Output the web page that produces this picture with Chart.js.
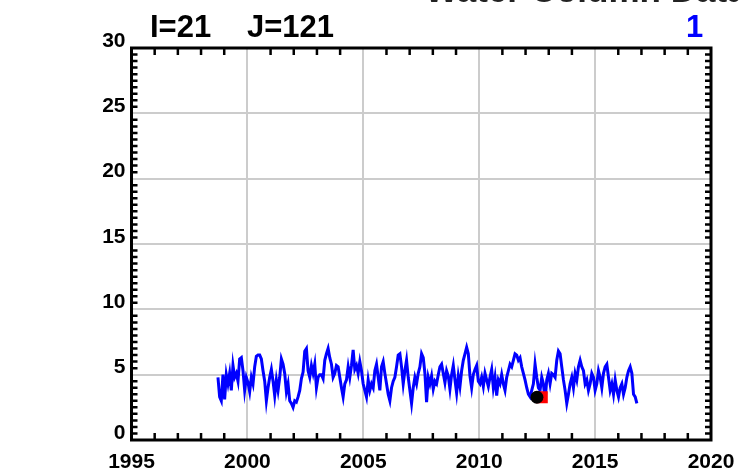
<!DOCTYPE html>
<html>
<head>
<meta charset="utf-8">
<script src="https://cdn.jsdelivr.net/npm/chart.js@4.4.1/dist/chart.umd.min.js"></script>
<style>
html, body { margin: 0; padding: 0; background: #fff; overflow: hidden; }
#wrap { position: relative; width: 740px; height: 473px; }
.lbl { position: absolute; font-family: "Liberation Sans", Arial, sans-serif; font-weight: bold;
       font-size: 31px; line-height: 31px; white-space: nowrap; color: #000; }
</style>
</head>
<body>
<div id="wrap">
  <canvas id="depthChart" width="740" height="473"></canvas>
  <div class="lbl" style="left:425px; top:-28px; font-size:35px; line-height:35px; color:#222;">Water Column Data</div>
  <div class="lbl" style="left:150px; top:11px;">I=21</div>
  <div class="lbl" style="left:247px; top:11px;">J=121</div>
  <div class="lbl" style="left:686px; top:11px; color:#0000ff;">1</div>
</div>
<script>
// series: roughly 14 samples a year, late 1998 to late 2016
const seriesStart = 1998.73;
const seriesStep = 0.0720;

const depth1998 = [4.8,3.3,3.0,5.0,3.1,5.0,4.3,5.1,3.8,5.7,
  4.8,5.1,4.5,6.2,6.3,5.3,3.8,4.8,4.4,3.7,
  4.8,4.3,5.6,6.4,6.5,6.5,6.2,5.3,4.5,3.0,
  4.0,4.8,5.4,4.5,3.4,4.6,3.8,4.8,6.2,5.8,
  5.1,3.7,4.3,3.0,2.8,2.5,3.0,2.9,3.3,3.8,
  4.7,5.2,6.8,7.0,5.3,4.8,5.7,5.1,5.8,4.0,4.8];
const depth2003 = [5.0,5.0,4.7,6.1,6.6,7.0,6.3,5.8,4.8,5.1,
  5.7,5.6,4.8,4.0,3.3,4.3,4.6,5.6,4.8,5.7,
  6.9,5.4,5.7,5.1,6.0,5.3,4.3,3.8,3.3,4.6,
  3.8,4.3,4.0,5.3,5.8,4.8,3.8,5.6,6.0,5.1,
  4.3,3.5,3.0,4.0,4.5,4.8,5.6,6.5,6.6,5.6,
  4.3,5.3,6.1,4.8,3.8,2.8,4.0,4.8,4.3,5.1,
  5.6,6.6,6.3,5.1];
const depth2007 = [2.9,4.8,4.3,4.9,3.9,4.5,4.3,5.0,5.6,5.8,
  5.1,4.4,5.3,4.9,3.9,5.0,5.7,4.6,3.6,4.9,
  4.1,5.3,6.1,6.6,7.1,6.6,4.9,4.0,5.0,5.4,
  5.7,4.5,4.3,4.8,4.1,5.1,4.6,4.1,4.8,5.4,
  4.0,4.8,3.4,4.6,4.3,5.0,4.3,3.8,4.8,5.3,
  5.8,5.6,6.1,6.6,6.5,6.1,6.3,5.6,5.1,4.6,
  4.0,3.5,3.3,3.8];
const depth2012 = [4.3,5.8,4.8,4.0,3.8,4.8,4.3,3.0,4.6,5.1,
  4.3,5.1,5.0,4.8,6.1,6.8,6.6,5.6,4.6,3.8,
  2.8,3.5,4.3,4.8,4.0,5.1,4.6,5.6,6.1,5.6,
  5.3,4.3,4.6,3.8,4.3,5.1,4.8,3.8,4.3,5.3,
  4.8,4.0,5.1,5.6,5.8,4.8,3.8,4.3,3.5,4.6,
  3.8,3.3,4.0,4.3,3.5,4.0,4.8,5.3,5.6,5.1,
  3.5,3.3,2.8];

const dotPoint = { x: 2012.49, y: 3.27 };
const squarePoint = { x: 2012.70, y: 3.27 };

const xMin = 1995, xMax = 2020;
const yMin = 0, yMax = 30;

var depthValues = depth1998.concat(depth2003, depth2007, depth2012);
var linePoints = [];
for (var i = 0; i < depthValues.length; i++) {
  linePoints.push({ x: seriesStart + i * seriesStep, y: depthValues[i] });
}

// inward minor ticks + black frame, like the original plot
const framePlugin = {
  id: 'frame',
  afterDatasetsDraw(chart) {
    const ctx = chart.ctx;
    const a = chart.chartArea;
    const xs = chart.scales.x, ys = chart.scales.y;
    ctx.save();
    ctx.strokeStyle = '#000';
    ctx.lineWidth = 2.5;
    ctx.beginPath();
    for (var yr = xMin + 1; yr < xMax; yr++) {
      if (yr % 5 === 0) continue;
      var px = xs.getPixelForValue(yr);
      ctx.moveTo(px, a.bottom); ctx.lineTo(px, a.bottom - 7);
      ctx.moveTo(px, a.top); ctx.lineTo(px, a.top + 7);
    }
    for (var v = 0.5; v < yMax; v += 0.5) {
      if (v % 5 === 0) continue;
      var py = ys.getPixelForValue(v);
      ctx.moveTo(a.left, py); ctx.lineTo(a.left + 6, py);
      ctx.moveTo(a.right, py); ctx.lineTo(a.right - 6, py);
    }
    ctx.stroke();
    ctx.lineWidth = 3;
    ctx.strokeRect(a.left, a.top, a.right - a.left, a.bottom - a.top);
    ctx.restore();
  }
};

const tickFont = { family: '"Liberation Sans", Arial, sans-serif', size: 21, weight: 'bold' };

new Chart(document.getElementById('depthChart'), {
  type: 'line',
  data: {
    datasets: [
      {
        data: [dotPoint],
        showLine: false,
        pointRadius: 6.5,
        pointBackgroundColor: '#000',
        pointBorderWidth: 0,
        order: 1
      },
      {
        data: [squarePoint],
        showLine: false,
        pointStyle: 'rect',
        pointRadius: 8.5,
        pointBackgroundColor: '#ff0000',
        pointBorderWidth: 0,
        order: 2
      },
      {
        data: linePoints,
        borderColor: '#0000ff',
        borderWidth: 3,
        pointRadius: 0,
        tension: 0,
        fill: false,
        order: 3
      }
    ]
  },
  options: {
    responsive: false,
    animation: false,
    layout: { padding: { left: 0, top: 48, right: 29, bottom: 0 } },
    plugins: {
      legend: { display: false },
      tooltip: { enabled: false }
    },
    scales: {
      x: {
        type: 'linear',
        min: xMin,
        max: xMax,
        afterFit: function (s) { s.height = 33; s.paddingLeft = 0; s.paddingRight = 0; },
        ticks: {
          stepSize: 5,
          color: '#000',
          font: tickFont,
          padding: 10,
          maxRotation: 0,
          callback: function (v) { return String(v); }
        },
        grid: { color: '#cccccc', lineWidth: 2, drawTicks: false },
        border: { display: false }
      },
      y: {
        min: yMin,
        max: yMax,
        afterFit: function (s) { s.width = 131.5; s.paddingTop = 0; s.paddingBottom = 0; },
        ticks: {
          stepSize: 5,
          color: '#000',
          font: tickFont,
          padding: 6,
          labelOffset: -7,
          callback: function (v) { return String(v); }
        },
        grid: { color: '#cccccc', lineWidth: 2, drawTicks: false },
        border: { display: false }
      }
    }
  },
  plugins: [framePlugin]
});
</script>
</body>
</html>
